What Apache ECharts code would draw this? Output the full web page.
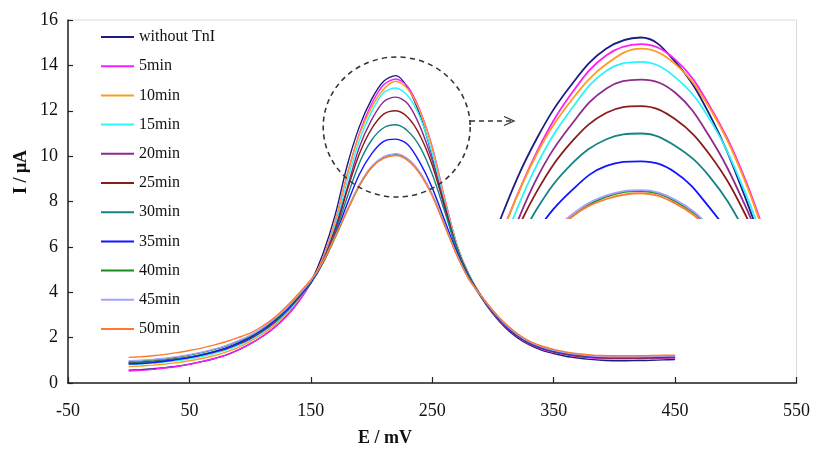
<!DOCTYPE html>
<html>
<head>
<meta charset="utf-8">
<script src="https://cdn.jsdelivr.net/npm/echarts@6/dist/echarts.min.js"></script>
<style>
html, body { margin: 0; padding: 0; background: #fff; }
#dpv_chart { width: 813px; height: 451px; }
</style>
</head>
<body>
<div id="dpv_chart"></div>
<script>
//*************** data *************************
var e_mv = [0, 10, 20, 30, 40, 50, 60, 70, 80, 90, 100, 110, 120, 130, 140, 150, 160, 170, 180, 190, 200, 210, 220, 230,
    240, 250, 260, 270, 280, 290, 300, 310, 320, 330, 340, 350, 360, 370, 380, 390, 400, 410, 420, 430, 440, 450];

var x_ticks = [-50, 50, 150, 250, 350, 450, 550];
var y_ticks = [0, 2, 4, 6, 8, 10, 12, 14, 16];

var without_tni = [0.56, 0.59, 0.63, 0.68, 0.74, 0.83, 0.94, 1.07, 1.23, 1.45, 1.72, 2.05, 2.45, 2.95, 3.6, 4.45, 5.7, 7.4, 9.6, 11.3,
    12.5, 13.3, 13.55, 13.0, 11.8, 10.0, 7.8, 5.9, 4.7, 3.8, 3.05, 2.45, 2.0, 1.68, 1.45, 1.3, 1.18, 1.1, 1.04, 1.0,
    0.98, 0.98, 0.99, 1.0, 1.02, 1.03];
var min_5 = [0.53, 0.56, 0.6, 0.66, 0.73, 0.82, 0.94, 1.07, 1.23, 1.45, 1.72, 2.05, 2.44, 2.94, 3.58, 4.4, 5.5, 7.1, 9.2, 11.0,
    12.3, 13.15, 13.4, 13.05, 12.0, 10.4, 8.2, 6.15, 4.8, 3.85, 3.1, 2.5, 2.05, 1.72, 1.5, 1.35, 1.24, 1.16, 1.11, 1.08,
    1.07, 1.07, 1.07, 1.08, 1.09, 1.1];
var min_10 = [0.72, 0.75, 0.79, 0.84, 0.9, 0.98, 1.08, 1.2, 1.36, 1.56, 1.83, 2.15, 2.55, 3.05, 3.7, 4.45, 5.5, 7.1, 9.2, 10.95,
    12.15, 12.95, 13.3, 12.95, 11.95, 10.35, 8.15, 6.15, 4.82, 3.87, 3.12, 2.53, 2.08, 1.75, 1.53, 1.38, 1.27, 1.19, 1.14, 1.11,
    1.1, 1.1, 1.1, 1.11, 1.12, 1.13];
var min_15 = [0.82, 0.84, 0.88, 0.93, 0.99, 1.07, 1.17, 1.3, 1.45, 1.65, 1.9, 2.22, 2.62, 3.1, 3.72, 4.4, 5.4, 6.9, 8.9, 10.7,
    11.95, 12.8, 13.0, 12.65, 11.7, 10.1, 8.0, 6.1, 4.8, 3.85, 3.12, 2.52, 2.08, 1.76, 1.54, 1.39, 1.28, 1.2, 1.15, 1.12,
    1.11, 1.11, 1.11, 1.12, 1.13, 1.14];
var min_20 = [0.88, 0.9, 0.94, 0.99, 1.05, 1.13, 1.23, 1.35, 1.5, 1.7, 1.95, 2.27, 2.66, 3.15, 3.75, 4.4, 5.4, 6.8, 8.6, 10.4,
    11.6, 12.4, 12.6, 12.3, 11.3, 9.8, 7.9, 6.0, 4.75, 3.85, 3.1, 2.5, 2.06, 1.74, 1.52, 1.37, 1.26, 1.18, 1.13, 1.1,
    1.09, 1.09, 1.09, 1.1, 1.11, 1.12];
var min_25 = [0.9, 0.92, 0.96, 1.01, 1.07, 1.15, 1.25, 1.37, 1.52, 1.72, 1.97, 2.3, 2.7, 3.18, 3.78, 4.4, 5.35, 6.7, 8.5, 10.1,
    11.2, 11.85, 12.0, 11.7, 10.9, 9.6, 7.8, 6.0, 4.75, 3.85, 3.12, 2.52, 2.08, 1.76, 1.54, 1.39, 1.28, 1.2, 1.15, 1.12,
    1.11, 1.11, 1.11, 1.12, 1.13, 1.14];
var min_30 = [0.87, 0.9, 0.94, 0.99, 1.06, 1.14, 1.25, 1.38, 1.54, 1.75, 2.0, 2.33, 2.72, 3.2, 3.8, 4.4, 5.3, 6.6, 8.2, 9.7,
    10.7, 11.25, 11.38, 11.1, 10.4, 9.2, 7.6, 5.95, 4.7, 3.85, 3.14, 2.55, 2.1, 1.78, 1.56, 1.41, 1.3, 1.22, 1.17, 1.14,
    1.13, 1.13, 1.13, 1.14, 1.15, 1.16];
var min_35 = [0.83, 0.86, 0.9, 0.96, 1.03, 1.12, 1.23, 1.37, 1.54, 1.76, 2.02, 2.35, 2.75, 3.23, 3.82, 4.45, 5.3, 6.5, 7.9, 9.2,
    10.1, 10.65, 10.75, 10.5, 9.7, 8.6, 7.2, 5.8, 4.65, 3.85, 3.15, 2.56, 2.11, 1.79, 1.57, 1.42, 1.31, 1.23, 1.18, 1.15,
    1.14, 1.14, 1.14, 1.15, 1.16, 1.17];
var min_40 = [0.95, 0.98, 1.02, 1.07, 1.14, 1.23, 1.34, 1.47, 1.63, 1.84, 2.08, 2.4, 2.8, 3.28, 3.86, 4.5, 5.3, 6.4, 7.6, 8.7,
    9.5, 9.95, 10.08, 9.85, 9.25, 8.3, 7.0, 5.7, 4.6, 3.85, 3.18, 2.6, 2.15, 1.82, 1.6, 1.45, 1.34, 1.26, 1.21, 1.18,
    1.17, 1.17, 1.17, 1.18, 1.19, 1.2];
var min_45 = [0.98, 1.0, 1.04, 1.09, 1.16, 1.25, 1.36, 1.49, 1.65, 1.86, 2.1, 2.42, 2.82, 3.3, 3.88, 4.5, 5.35, 6.45, 7.65, 8.75,
    9.55, 9.98, 10.1, 9.88, 9.28, 8.32, 7.0, 5.7, 4.6, 3.85, 3.17, 2.59, 2.14, 1.81, 1.59, 1.44, 1.33, 1.25, 1.2, 1.17,
    1.16, 1.16, 1.16, 1.17, 1.18, 1.19];
var min_50 = [1.13, 1.16, 1.2, 1.26, 1.34, 1.43, 1.54, 1.67, 1.82, 2.0, 2.2, 2.5, 2.88, 3.38, 3.95, 4.55, 5.35, 6.45, 7.6, 8.7,
    9.5, 9.9, 10.03, 9.8, 9.2, 8.25, 6.95, 5.65, 4.6, 3.87, 3.2, 2.63, 2.18, 1.85, 1.63, 1.48, 1.37, 1.29, 1.24, 1.21,
    1.2, 1.2, 1.2, 1.21, 1.22, 1.23];

var curve_names = ['without TnI', '5min', '10min', '15min', '20min', '25min', '30min', '35min', '40min', '45min', '50min'];
var curve_values = [without_tni, min_5, min_10, min_15, min_20, min_25, min_30, min_35, min_40, min_45, min_50];
var curve_colors = ['#1c1c82', '#ff1aff', '#ff9c1f', '#2af5ff', '#8e2a8e', '#8b1c1c', '#158383', '#1414ff', '#1b8c1b', '#a3a3ff', '#ff7a2e'];

//*************** init *************************
var dpv_chart_dom = document.getElementById("dpv_chart");
var dpv_chart = echarts.init(dpv_chart_dom);

var serif = "'Liberation Serif', 'DejaVu Serif', serif";

function to_points(values) {
    return e_mv.map(function (x, i) {
        return [x, values[i]];
    });
}

function get_series() {
    var series = [];
    // main plot
    for (var i = 0; i < curve_names.length; i++) {
        series.push({
            name: curve_names[i],
            type: 'line',
            xAxisIndex: 0,
            yAxisIndex: 0,
            data: to_points(curve_values[i]),
            symbol: 'none',
            smooth: 0.3,
            lineStyle: {width: 1.4, color: curve_colors[i]},
            itemStyle: {color: curve_colors[i]}
        });
    }
    // magnified peak
    for (var j = 0; j < curve_names.length; j++) {
        series.push({
            name: curve_names[j],
            type: 'line',
            xAxisIndex: 1,
            yAxisIndex: 1,
            data: to_points(curve_values[j]),
            symbol: 'none',
            smooth: 0.4,
            clip: true,
            lineStyle: {width: 1.8, color: curve_colors[j]},
            itemStyle: {color: curve_colors[j]}
        });
    }
    return series;
}

var options = {
    animation: false,
    backgroundColor: '#fff',
    grid: [
        {left: 68, right: 16, top: 20, bottom: 68, show: true, borderColor: '#dcdcdc', borderWidth: 1},
        {left: 498, top: 30, width: 272, height: 188, show: false}
    ],
    legend: {
        orient: 'vertical',
        left: 96,
        top: 24,
        icon: 'rect',
        itemWidth: 33,
        itemHeight: 2,
        itemGap: 13.2,
        data: curve_names,
        textStyle: {fontFamily: serif, fontSize: 16, color: '#111'}
    },
    xAxis: [
        {
            type: 'value',
            gridIndex: 0,
            min: x_ticks[0],
            max: x_ticks[x_ticks.length - 1],
            interval: 100,
            splitLine: {show: false},
            axisLine: {onZero: false, lineStyle: {color: '#222', width: 1.5}},
            axisTick: {inside: true, length: 6, lineStyle: {color: '#222', width: 1.2}},
            axisLabel: {margin: 19, fontFamily: serif, fontSize: 18, color: '#111'}
        },
        {type: 'value', gridIndex: 1, min: 178.5, max: 257.5, show: false}
    ],
    yAxis: [
        {
            type: 'value',
            gridIndex: 0,
            min: y_ticks[0],
            max: y_ticks[y_ticks.length - 1],
            interval: 2,
            splitLine: {show: false},
            axisLine: {show: true, onZero: false, lineStyle: {color: '#222', width: 1.5}},
            axisTick: {show: true, inside: true, length: 5, lineStyle: {color: '#222', width: 1.2}},
            axisLabel: {margin: 10, fontFamily: serif, fontSize: 18, color: '#111'}
        },
        {type: 'value', gridIndex: 1, min: 9.47, max: 13.72, show: false}
    ],
    graphic: [
        // dashed circle round the peaks
        {
            type: 'circle',
            x: 396.7,
            y: 127,
            scaleX: 1.05,
            shape: {cx: 0, cy: 0, r: 70},
            style: {fill: 'none', stroke: '#333', lineWidth: 1.5, lineDash: [5, 4]},
            z: 10
        },
        // dashed arrow to the magnified view
        {
            type: 'line',
            shape: {x1: 470, y1: 121, x2: 513, y2: 121},
            style: {stroke: '#333', lineWidth: 1.5, lineDash: [5, 4]},
            z: 10
        },
        {
            type: 'polyline',
            shape: {points: [[504, 116.5], [514, 121], [504, 125.5]]},
            style: {fill: 'none', stroke: '#333', lineWidth: 1.3},
            z: 10
        },
        // axis names
        {
            type: 'text',
            x: 385,
            y: 438,
            style: {text: 'E / mV', fontFamily: serif, fontSize: 18, fontWeight: 'bold', fill: '#111', textAlign: 'center', textVerticalAlign: 'middle'}
        },
        {
            type: 'text',
            x: 21,
            y: 172,
            rotation: Math.PI / 2,
            style: {text: 'I / μA', fontFamily: serif, fontSize: 18, fontWeight: 'bold', fill: '#111', textAlign: 'center', textVerticalAlign: 'middle'}
        }
    ],
    series: get_series()
};

dpv_chart.setOption(options);
</script>
</body>
</html>
